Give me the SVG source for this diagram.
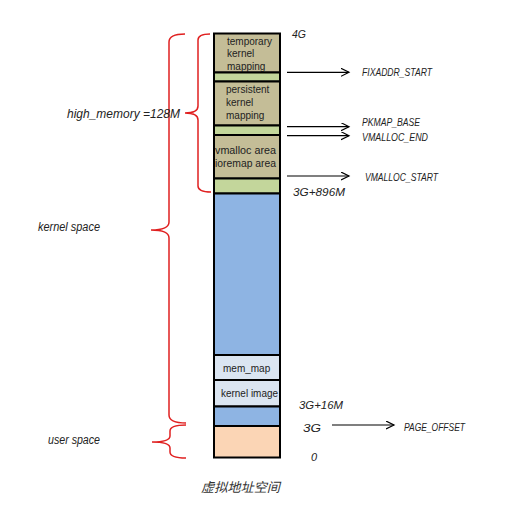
<svg xmlns="http://www.w3.org/2000/svg" width="510" height="505" viewBox="0 0 510 505">
<defs>
<style>
.seg{stroke:#000;stroke-width:2}
.tan{fill:#c4bd97}
.grn{fill:#c3d69b}
.blu{fill:#8eb4e3}
.lt{fill:#dbe5f1}
.pch{fill:#fbd5b5}
.ct{font-family:"Liberation Sans",Arial,sans-serif;font-size:10px;fill:#222}
.lb{font-family:"Liberation Sans",Arial,sans-serif;font-size:11px;font-style:italic;fill:#222}
.big{font-family:"Liberation Sans",Arial,sans-serif;font-size:12px;font-style:italic;fill:#222}
.cn{font-family:"Liberation Sans","Noto Sans CJK SC",sans-serif;font-size:13px;font-style:italic;fill:#333}
.br{fill:none;stroke:#e02020;stroke-width:1.5}
.ar{stroke:#000;stroke-width:1.2;fill:none}
</style>
<marker id="ah" markerWidth="10" markerHeight="10" refX="8" refY="4" orient="auto" markerUnits="userSpaceOnUse">
<path d="M0,0 L8,4 L0,8" fill="none" stroke="#000" stroke-width="1.2"/>
</marker>
</defs>
<rect width="510" height="505" fill="#fff"/>

<g id="braces">
<path class="br" d="M185,34 Q169,34 169,42 L169,222 Q169,230 151,230 Q169,230 169,238 L169,415 Q169,423 186,423"/>
<path class="br" d="M210,34 Q198,34 198,40 L198,106 Q198,113 185,113 Q198,113 198,120 L198,186 Q198,192 211,192"/>
<path class="br" d="M186,425 Q170,425 170,431 L170,436 Q170,442 152,442 Q170,442 170,448 L170,452 Q170,458 186,458"/>
</g>

<g id="temporary-kernel-mapping">
<rect class="seg tan" x="214" y="33.5" width="66" height="39"/>
<text class="ct" x="227" y="44.5">temporary</text>
<text class="ct" x="227" y="57">kernel</text>
<text class="ct" x="227" y="69.5">mapping</text>
</g>
<g id="gap1"><rect class="seg grn" x="214" y="72.5" width="66" height="9"/></g>
<g id="persistent-kernel-mapping">
<rect class="seg tan" x="214" y="81.5" width="66" height="44"/>
<text class="ct" x="226" y="93">persistent</text>
<text class="ct" x="226" y="106">kernel</text>
<text class="ct" x="226" y="118.5">mapping</text>
</g>
<g id="gap2"><rect class="seg grn" x="214" y="125.5" width="66" height="9.5"/></g>
<g id="vmalloc-area">
<rect class="seg tan" x="214" y="135" width="66" height="43.5"/>
<text class="ct" x="215" y="153.5" textLength="61" lengthAdjust="spacingAndGlyphs">vmalloc area</text>
<text class="ct" x="215" y="167" textLength="61" lengthAdjust="spacingAndGlyphs">ioremap area</text>
</g>
<g id="gap3"><rect class="seg grn" x="214" y="178.5" width="66" height="15"/></g>
<g id="lowmem"><rect class="seg blu" x="214" y="193.5" width="66" height="161.5"/></g>
<g id="mem-map">
<rect class="seg lt" x="214" y="355" width="66" height="25"/>
<text class="ct" x="223" y="372">mem_map</text>
</g>
<g id="kernel-image">
<rect class="seg lt" x="214" y="380" width="66" height="26.5"/>
<text class="ct" x="221" y="396.5" textLength="57" lengthAdjust="spacingAndGlyphs">kernel image</text>
</g>
<g id="low16"><rect class="seg blu" x="214" y="406.5" width="66" height="19.5"/></g>
<g id="user"><rect class="seg pch" x="214" y="426" width="66" height="31.5"/></g>

<g id="connectors">
<line class="ar" x1="287" y1="72.3" x2="349" y2="72.3" marker-end="url(#ah)"/>
<line class="ar" x1="287" y1="126.7" x2="349" y2="126.7" marker-end="url(#ah)"/>
<line class="ar" x1="287" y1="135.7" x2="349" y2="135.7" marker-end="url(#ah)"/>
<line class="ar" x1="287" y1="176" x2="349" y2="176" marker-end="url(#ah)"/>
<line class="ar" x1="332" y1="425" x2="394" y2="425" marker-end="url(#ah)"/>
</g>

<g id="labels">
<text class="lb" x="292" y="38" textLength="14" lengthAdjust="spacingAndGlyphs">4G</text>
<text class="lb" x="362" y="76" textLength="70" lengthAdjust="spacingAndGlyphs">FIXADDR_START</text>
<text class="lb" x="362" y="126" textLength="58" lengthAdjust="spacingAndGlyphs">PKMAP_BASE</text>
<text class="lb" x="362" y="140.5" textLength="66" lengthAdjust="spacingAndGlyphs">VMALLOC_END</text>
<text class="lb" x="365" y="180.5" textLength="73" lengthAdjust="spacingAndGlyphs">VMALLOC_START</text>
<text class="lb" x="293" y="196" textLength="52" lengthAdjust="spacingAndGlyphs">3G+896M</text>
<text class="lb" x="299" y="409" textLength="44" lengthAdjust="spacingAndGlyphs">3G+16M</text>
<text class="lb" x="303" y="432" textLength="18" lengthAdjust="spacingAndGlyphs">3G</text>
<text class="lb" x="404" y="431" font-size="9.5" textLength="61" lengthAdjust="spacingAndGlyphs">PAGE_OFFSET</text>
<text class="lb" x="311" y="461">0</text>
<text class="big" x="67" y="118" textLength="113" lengthAdjust="spacingAndGlyphs">high_memory =128M</text>
<text class="big" x="38" y="231" textLength="62" lengthAdjust="spacingAndGlyphs">kernel space</text>
<text class="big" x="48" y="444" textLength="52" lengthAdjust="spacingAndGlyphs">user space</text>
<text class="cn" x="201" y="492" textLength="79" lengthAdjust="spacingAndGlyphs">虚拟地址空间</text>
</g>
</svg>
